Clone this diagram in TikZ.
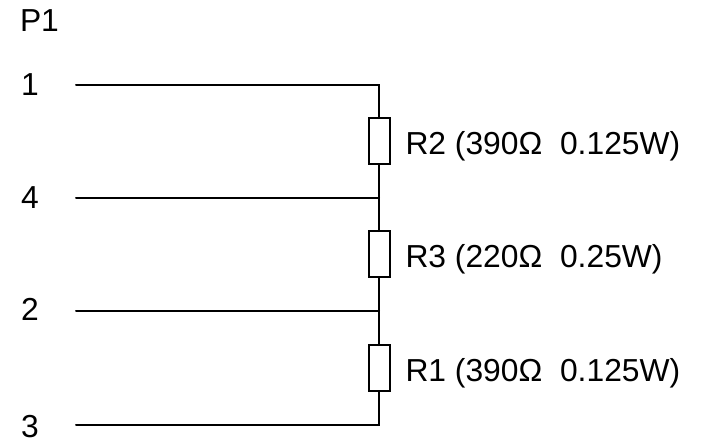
\documentclass[tikz,border=0pt]{standalone}
\usepackage{fontspec}
\setmainfont{Liberation Sans}
\tikzset{
  wire/.style={draw=black,line width=2pt,line cap=round,line join=miter},
  resistor/.style={draw=black,fill=white,line width=2pt,rectangle,minimum width=21pt,minimum height=46pt,inner sep=0pt,outer sep=0pt},
  lbl/.style={anchor=base west,inner sep=0pt,outer sep=0pt,text=black,font=\fontsize{31.8}{36}\selectfont}
}
\begin{document}
\begin{tikzpicture}[x=1pt,y=-1pt]
\useasboundingbox (0,0) rectangle (704,439);
\node[lbl] (p1) at (20,31.5) {P1};
\node[lbl] (n1) at (21,95.5) {1};
\node[lbl] (n4) at (21,208.5) {4};
\node[lbl] (n2) at (21,320.5) {2};
\node[lbl] (n3) at (21,437) {3};
\coordinate (a1) at (76,84.5);
\coordinate (a4) at (76,197.5);
\coordinate (a2) at (76,311);
\coordinate (a3) at (76,424.5);
\coordinate (j1) at (379,84.5);
\coordinate (j4) at (379,197.5);
\coordinate (j2) at (379,311);
\coordinate (j3) at (379,424.5);
\node[resistor] (r2) at (379,141) {};
\node[resistor] (r3) at (379,254) {};
\node[resistor] (r1) at (379,368) {};
\draw[wire] (a1) -- (j1) -- (r2.north);
\draw[wire] (r2.south) -- (j4) -- (r3.north);
\draw[wire] (r3.south) -- (j2) -- (r1.north);
\draw[wire] (r1.south) -- (j3) -- (a3);
\draw[wire] (a4) -- (j4);
\draw[wire] (a2) -- (j2);
\node[lbl] (t2) at (405.5,154) {R2 (390Ω~~0.125W)};
\node[lbl] (t3) at (405.5,267.5) {R3 (220Ω~~0.25W)};
\node[lbl] (t1) at (405.5,381.5) {R1 (390Ω~~0.125W)};
\end{tikzpicture}
\end{document}
